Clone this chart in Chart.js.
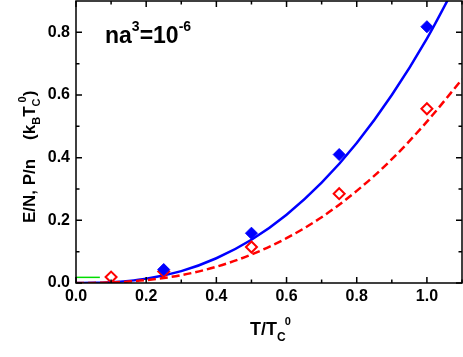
<!DOCTYPE html>
<html>
<head>
<meta charset="utf-8">
<script src="https://cdn.jsdelivr.net/npm/chart.js@4"></script>
<style>
  html, body { margin: 0; padding: 0; background: #fff; }
  #wrap { width: 463px; height: 357px; }
</style>
</head>
<body>
<div id="wrap"><canvas id="chart" width="463" height="357"></canvas></div>
<script>
// values
const curveT = [0, 0.05, 0.1, 0.15, 0.2, 0.3, 0.4, 0.5, 0.6, 0.7, 0.8, 0.9, 1.0, 1.1];
const energyCurve = [0, 0.0004, 0.0025, 0.0068, 0.014, 0.038, 0.079, 0.138, 0.218, 0.32, 0.447, 0.60, 0.78, 0.99];
const pressureCurve = [0, 0.0003, 0.0016, 0.0045, 0.0092, 0.025, 0.052, 0.091, 0.143, 0.21, 0.294, 0.395, 0.515, 0.65];

const energyT = [0.25, 0.5, 0.75, 1.0];
const energyPts = [0.043, 0.159, 0.41, 0.818];
const pressureT = [0.1, 0.25, 0.5, 0.75, 1.0];
const pressurePts = [0.019, 0.037, 0.115, 0.285, 0.556];

const greenT = [0, 0.068];
const greenY = [0.018, 0.018];

const xRange = [0, 1.1];
const yRange = [0, 0.9];

const pts = (xs, ys) => xs.map((x, i) => ({ x: x, y: ys[i] }));
const FONT = '"Liberation Sans", Arial, sans-serif';

// draws a run of text pieces (with sub/superscripts) starting at 0,0
function drawRich(ctx, pieces) {
  let x = 0;
  pieces.forEach(p => {
    ctx.font = 'bold ' + p.size + 'px ' + FONT;
    x -= p.back || 0;
    ctx.fillText(p.t, x, p.dy || 0);
    x += ctx.measureText(p.t).width;
  });
}

const framePlugin = {
  id: 'frame',
  afterDraw(chart) {
    const { ctx, chartArea: a } = chart;
    const xs = chart.scales.x, ys = chart.scales.y;
    ctx.save();
    ctx.strokeStyle = '#000';
    ctx.lineWidth = 1.5;
    ctx.strokeRect(a.left, a.top, a.right - a.left, a.bottom - a.top);
    ctx.beginPath();
    for (let i = 0; i <= 11; i++) {
      const v = i / 10;
      const len = i % 2 === 0 ? 6 : 3.5;
      const px = xs.getPixelForValue(v);
      ctx.moveTo(px, a.bottom); ctx.lineTo(px, a.bottom - len);
      ctx.moveTo(px, a.top); ctx.lineTo(px, a.top + len);
    }
    for (let i = 0; i <= 8; i++) {
      const v = i / 10;
      const len = i % 2 === 0 ? 6 : 3.5;
      const py = ys.getPixelForValue(v);
      ctx.moveTo(a.left, py); ctx.lineTo(a.left + len, py);
      ctx.moveTo(a.right, py); ctx.lineTo(a.right - len, py);
    }
    ctx.stroke();

    ctx.fillStyle = '#000';
    ctx.textBaseline = 'alphabetic';
    ctx.textAlign = 'left';

    // x title
    ctx.save();
    ctx.translate(250, 335);
    drawRich(ctx, [
      { t: 'T/T', size: 18 },
      { t: 'C', size: 12, dy: 6 },
      { t: '0', size: 11, dy: -10, back: 1 }
    ]);
    ctx.restore();

    // y title
    ctx.save();
    ctx.translate(35, 223);
    ctx.rotate(-Math.PI / 2);
    drawRich(ctx, [
      { t: 'E/N, P/n    (k', size: 17 },
      { t: 'B', size: 11, dy: 5 },
      { t: 'T', size: 17 },
      { t: 'C', size: 11, dy: 5 },
      { t: '0', size: 11, dy: -9, back: 4 },
      { t: ')', size: 17 }
    ]);
    ctx.restore();

    // density annotation
    ctx.save();
    ctx.translate(105, 43);
    drawRich(ctx, [
      { t: 'na', size: 23 },
      { t: '3', size: 14, dy: -12 },
      { t: '=10', size: 23 },
      { t: '-6', size: 14, dy: -12 }
    ]);
    ctx.restore();
    ctx.restore();
  }
};

const tickFont = { family: FONT, size: 16, weight: 'bold' };

function fixBox(size) {
  return s => {
    if (s.isHorizontal()) s.height = size; else s.width = size;
    s.paddingTop = 0; s.paddingBottom = 0;
    s.paddingLeft = 0; s.paddingRight = 0;
  };
}

new Chart(document.getElementById('chart'), {
  type: 'scatter',
  data: {
    datasets: [
      {
        data: pts(energyT, energyPts),
        pointStyle: 'rectRot',
        pointRadius: 6,
        backgroundColor: '#0000ff',
        borderColor: '#0000ff',
        borderWidth: 1,
        order: 0
      },
      {
        data: pts(pressureT, pressurePts),
        pointStyle: 'rectRot',
        pointRadius: 5.5,
        backgroundColor: '#ffffff',
        borderColor: '#ff0000',
        borderWidth: 2,
        order: 1
      },
      {
        data: pts(curveT, pressureCurve),
        showLine: true,
        pointRadius: 0,
        borderColor: '#ff0000',
        borderWidth: 2.5,
        borderDash: [8, 4],
        cubicInterpolationMode: 'monotone',
        order: 2
      },
      {
        data: pts(curveT, energyCurve),
        showLine: true,
        pointRadius: 0,
        borderColor: '#0000ff',
        borderWidth: 2.5,
        cubicInterpolationMode: 'monotone',
        order: 3
      },
      {
        data: pts(greenT, greenY),
        showLine: true,
        pointRadius: 0,
        borderColor: '#00dd00',
        borderWidth: 1.5,
        order: 4
      }
    ]
  },
  options: {
    responsive: false,
    animation: false,
    layout: { autoPadding: false, padding: { top: 1, right: 1, left: 0, bottom: 0 } },
    plugins: { legend: { display: false }, tooltip: { enabled: false } },
    scales: {
      x: {
        type: 'linear',
        min: xRange[0],
        max: xRange[1],
        border: { display: false },
        grid: { display: false, drawTicks: false },
        ticks: {
          stepSize: 0.2,
          includeBounds: false,
          maxRotation: 0,
          padding: 4,
          color: '#000',
          font: tickFont,
          callback: v => v.toFixed(1)
        },
        afterFit: fixBox(74)
      },
      y: {
        type: 'linear',
        min: yRange[0],
        max: yRange[1],
        border: { display: false },
        grid: { display: false, drawTicks: false },
        ticks: {
          stepSize: 0.2,
          includeBounds: false,
          padding: 6,
          color: '#000',
          font: tickFont,
          callback: v => v.toFixed(1)
        },
        afterFit: fixBox(76)
      }
    }
  },
  plugins: [framePlugin]
});
</script>
</body>
</html>
